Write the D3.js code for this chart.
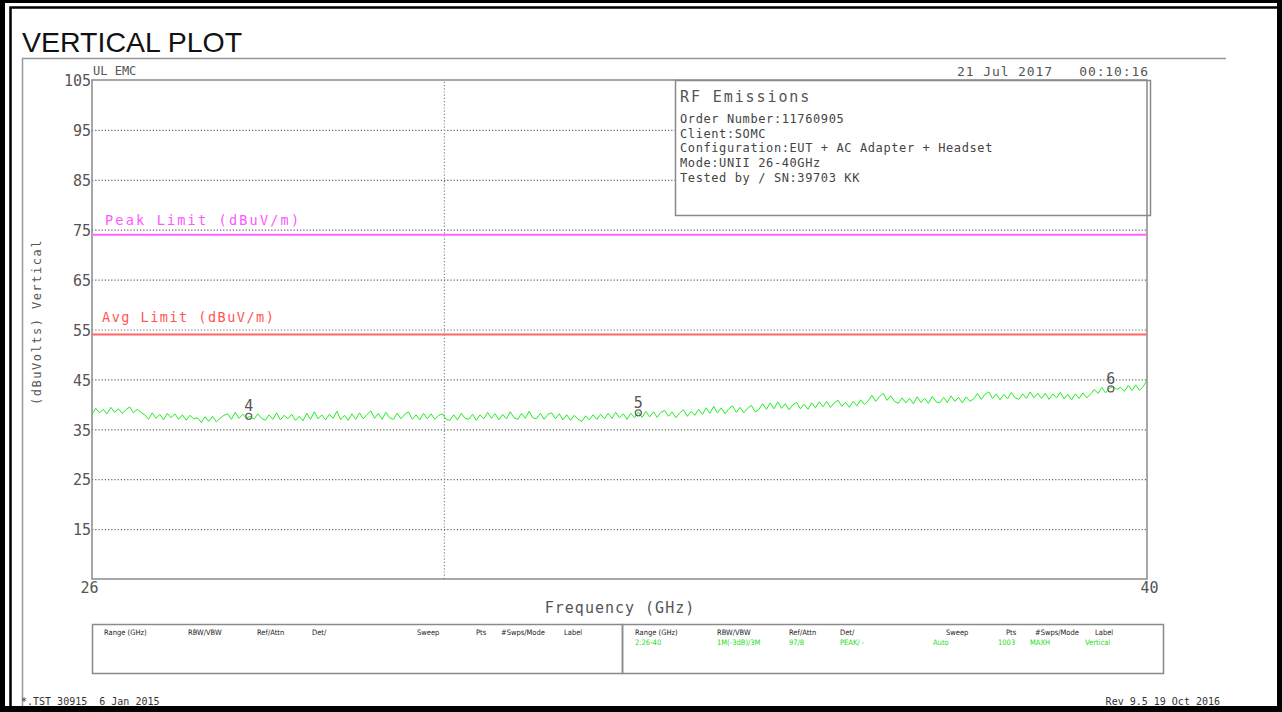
<!DOCTYPE html>
<html><head><meta charset="utf-8">
<script src="https://cdn.jsdelivr.net/npm/d3@7"></script>
<style>
html,body{margin:0;padding:0;background:#fff;}
svg{display:block;}
.mono{font-family:"DejaVu Sans Mono",monospace;}
text{white-space:pre;}
</style></head>
<body>
<svg id="c" width="1282" height="712"></svg>
<script>
// ---------- data ----------
const title = "VERTICAL PLOT";
const freqDomain = [26, 40];              // GHz
const levelDomain = [5, 105];             // dBuV
const yTickValues = [105, 95, 85, 75, 65, 55, 45, 35, 25, 15];
const xTickValues = [26, 40];
const vGridFreqs = [30.67];
const peakLimit = 74;
const avgLimit = 54;
const traceValues = [
 38.0,39.2,38.3,39.0,38.1,39.4,38.4,39.1,38.2,38.9,39.5,38.3,39.0,38.4,
 37.9,37.0,38.3,37.2,38.0,36.9,38.2,37.3,38.1,37.0,37.9,36.8,37.8,37.1,
 37.3,36.4,37.5,36.6,37.6,36.5,37.2,37.8,
 38.1,37.0,38.4,37.2,38.0,37.3,37.6,
 37.0,38.1,37.2,36.8,37.9,37.0,38.3,36.9,37.8,37.1,
 38.0,36.8,37.6,36.7,38.2,37.0,38.5,37.1,37.9,36.9,
 38.0,37.2,38.6,36.9,37.8,36.8,38.1,37.0,38.3,37.1,
 38.0,38.7,37.2,38.2,37.0,38.4,37.3,37.0,38.2,37.1,
 38.0,38.5,37.0,37.9,36.9,38.2,37.1,38.1,37.0,37.8,
 38.1,37.0,36.8,37.9,36.9,38.2,37.2,37.0,38.0,36.8,
 37.9,37.1,38.4,37.2,38.1,36.9,38.0,37.1,38.5,37.3,
 37.0,38.2,37.2,38.6,37.3,37.1,38.2,37.0,38.0,38.3,
 37.1,38.1,36.9,37.9,36.8,37.8,37.0,36.6,37.7,36.9,
 37.9,37.0,38.0,37.1,38.2,37.2,38.4,37.3,38.1,37.0,
 38.2,37.3,38.5,37.4,
 38.6,37.5,38.5,37.4,38.4,38.8,37.6,38.5,37.3,38.3,38.9,37.6,38.6,37.8,39.0,38.0,
 39.3,38.2,39.6,38.3,39.3,38.1,39.1,39.7,38.4,39.4,38.3,39.2,39.8,38.5,
 39.0,40.1,39.0,40.3,39.1,40.5,39.2,40.1,38.9,39.9,40.4,39.1,40.0,39.0,40.3,
 39.3,40.5,39.5,40.6,39.4,40.3,40.8,39.6,40.4,39.4,40.6,39.7,40.9,40.0,
 40.7,41.8,40.6,41.6,42.2,40.8,41.7,40.6,
 40.2,41.3,40.3,41.2,40.1,41.5,40.4,41.2,40.2,41.6,40.5,40.3,41.4,40.4,41.7,40.6,41.4,40.3,41.5,40.6,
 41.1,42.2,41.0,42.0,42.5,41.2,42.1,40.9,42.0,41.1,42.4,41.3,41.0,42.1,41.2,42.5,41.3,42.2,
 41.2,42.2,41.0,42.1,41.3,42.4,41.1,42.0,40.9,42.1,41.2,42.3,41.3,
 42.0,43.0,42.2,43.4,42.3,43.2,43.6,43.0,
 43.4,42.6,43.8,42.8,43.9,42.8,43.6,44.8
];
const markerIds = ["4", "5", "6"];
const markerFreqs = [28.08, 33.25, 39.52];
const markerLevels = [37.6, 38.3, 43.1];
const infoTitle = "RF Emissions";
const infoLines = ["Order Number:11760905","Client:SOMC","Configuration:EUT + AC Adapter + Headset","Mode:UNII 26-40GHz","Tested by / SN:39703 KK"];
const tableHeaders = ["Range (GHz)","RBW/VBW","Ref/Attn","Det/","Sweep","Pts","#Swps/Mode","Label"];
const tableValues = ["2:26-40","1M(-3dB)/3M","97/8","PEAK/ -","Auto","1003","MAXH","Vertical"];

// ---------- layout ----------
const svg = d3.select("#c");
const L = 92, R = 1147, T = 80, B = 579;
const x = d3.scaleLinear().domain(freqDomain).range([L, R]);
const y = d3.scaleLinear().domain(levelDomain).range([B, T]);
const gray = "#555", frame = "#8a8a8a";

// outer frame
svg.append("rect").attr("x",0).attr("y",0).attr("width",1282).attr("height",712).attr("fill","#000");
svg.append("rect").attr("x",5).attr("y",3).attr("width",1272).attr("height",703).attr("fill","#fff");
svg.append("path").attr("d","M10.5,710 V7.5 H1278").attr("fill","none").attr("stroke","#000").attr("stroke-width",2.5);

svg.append("text").attr("x",22).attr("y",52).attr("font-family","Liberation Sans, Arial, sans-serif")
  .attr("font-size",28.5).attr("fill","#111").text(title);

// gray page box
svg.append("path").attr("d","M1226,58.5 H22.5 V706").attr("fill","none").attr("stroke","#999").attr("stroke-width",1.5);

// grid
svg.append("g").attr("transform",`translate(${L},0)`)
  .call(d3.axisLeft(y).tickValues(yTickValues.filter(v=>v<105)).tickSize(-(R-L)).tickFormat(""))
  .call(g=>{g.select(".domain").remove(); g.selectAll("line").attr("stroke","#666").attr("stroke-width",1.2).attr("stroke-dasharray","1.2,2");});
svg.append("g").attr("transform",`translate(0,${B})`)
  .call(d3.axisBottom(x).tickValues(vGridFreqs).tickSize(-(B-T)).tickFormat(""))
  .call(g=>{g.select(".domain").remove(); g.selectAll("line").attr("stroke","#888").attr("stroke-width",1.2).attr("stroke-dasharray","1.2,2");});

// info box
const bx = 675, by = T, bw = 475, bh = 135;
svg.append("rect").attr("x",bx+0.5).attr("y",by+0.5).attr("width",bw).attr("height",bh).attr("fill","#fff").attr("stroke",frame).attr("stroke-width",1.5);
svg.append("text").attr("class","mono").attr("x",680).attr("y",102).attr("font-size",15).attr("letter-spacing",1.9).attr("fill",gray).text(infoTitle);
svg.selectAll("text.info").data(infoLines).join("text").attr("class","mono info")
  .attr("x",680).attr("y",(d,i)=>123+i*14.7).attr("font-size",12).attr("letter-spacing",0.6).attr("fill","#444").text(d=>d);

// plot frame
svg.append("rect").attr("x",L).attr("y",T).attr("width",R-L).attr("height",B-T).attr("fill","none").attr("stroke",frame).attr("stroke-width",1.5);

// y axis labels
svg.append("g").attr("transform",`translate(${L},0)`)
  .call(d3.axisLeft(y).tickValues(yTickValues).tickSize(0).tickPadding(1).tickFormat(d3.format("d")))
  .call(g=>{g.select(".domain").remove(); g.selectAll("text").attr("class","mono").attr("font-size",15).attr("fill",gray).attr("dy","0.38em");});
// x axis labels
svg.append("g").attr("transform",`translate(0,${B})`)
  .call(d3.axisBottom(x).tickValues(xTickValues).tickSize(0).tickPadding(3).tickFormat(d3.format("d")))
  .call(g=>{g.select(".domain").remove(); g.selectAll("text").attr("class","mono").attr("font-size",15).attr("fill",gray);
    g.selectAll(".tick text").attr("dx",(d)=>d===26?-3:2);});

svg.append("text").attr("class","mono").attr("x",620).attr("y",613).attr("text-anchor","middle").attr("font-size",15).attr("letter-spacing",1).attr("fill",gray).text("Frequency (GHz)");
svg.append("text").attr("class","mono").attr("transform","translate(41,322) rotate(-90)").attr("text-anchor","middle").attr("font-size",12).attr("letter-spacing",1.5).attr("fill",gray).text("(dBuVolts) Vertical");
svg.append("text").attr("class","mono").attr("x",93).attr("y",75).attr("font-size",12).attr("fill",gray).text("UL EMC");
svg.append("text").attr("class","mono").attr("x",1149).attr("y",76).attr("text-anchor","end").attr("font-size",13).attr("letter-spacing",0.9).attr("fill",gray).text("21 Jul 2017   00:10:16");

// limits
svg.append("line").attr("x1",L).attr("x2",R).attr("y1",y(peakLimit)).attr("y2",y(peakLimit)).attr("stroke","#ff66ff").attr("stroke-width",2);
svg.append("line").attr("x1",L).attr("x2",R).attr("y1",y(avgLimit)).attr("y2",y(avgLimit)).attr("stroke","#ff6666").attr("stroke-width",2);
svg.append("text").attr("class","mono").attr("x",105).attr("y",y(peakLimit)-10).attr("font-size",13.5).attr("letter-spacing",2.2).attr("fill","#ff55ff").text("Peak Limit (dBuV/m)");
svg.append("text").attr("class","mono").attr("x",102).attr("y",y(avgLimit)-12).attr("font-size",13.5).attr("letter-spacing",1.5).attr("fill","#ff5555").text("Avg Limit (dBuV/m)");

// trace
const n = traceValues.length;
const fAt = i => freqDomain[0] + i*(freqDomain[1]-freqDomain[0])/(n-1);
svg.append("path").datum(traceValues)
  .attr("d", d3.line().x((d,i)=>x(fAt(i))).y(d=>y(d)))
  .attr("fill","none").attr("stroke","#22ee22").attr("stroke-width",1);

// markers
const mk = svg.append("g");
markerIds.forEach((id,i)=>{
  mk.append("circle").attr("cx",x(markerFreqs[i])).attr("cy",y(markerLevels[i])).attr("r",3).attr("fill","none").attr("stroke","#666").attr("stroke-width",1.3);
  mk.append("text").attr("class","mono").attr("x",x(markerFreqs[i])).attr("y",y(markerLevels[i])-5).attr("text-anchor","middle").attr("font-size",15).attr("fill",gray).text(id);
});

// settings table
svg.append("rect").attr("x",92.5).attr("y",624.5).attr("width",530).attr("height",49).attr("fill","none").attr("stroke",frame).attr("stroke-width",1.5);
svg.append("rect").attr("x",622.5).attr("y",624.5).attr("width",541).attr("height",49).attr("fill","none").attr("stroke",frame).attr("stroke-width",1.5);
const hdrLeftX = [104,188,257,312,417,476,501,564];
const hdrRightX = [635,717,789,840,946,1006,1035,1095];
const valX = [635,717,789,840,933,998,1030,1085];
const tf = "DejaVu Sans Condensed, DejaVu Sans, sans-serif";
svg.selectAll("text.hl").data(tableHeaders).join("text").attr("class","hl").attr("x",(d,i)=>hdrLeftX[i]).attr("y",635).attr("font-family",tf).attr("font-size",7.5).attr("fill","#222").text(d=>d);
svg.selectAll("text.hr").data(tableHeaders).join("text").attr("class","hr").attr("x",(d,i)=>hdrRightX[i]).attr("y",635).attr("font-family",tf).attr("font-size",7.5).attr("fill","#222").text(d=>d);
svg.selectAll("text.tv").data(tableValues).join("text").attr("class","tv").attr("x",(d,i)=>valX[i]).attr("y",645).attr("font-family",tf).attr("font-size",7.5).attr("fill","#22dd22").text(d=>d);

// footer
svg.append("text").attr("class","mono").attr("x",21).attr("y",705).attr("font-size",10).attr("fill","#333").text("*.TST 30915  6 Jan 2015");
svg.append("text").attr("class","mono").attr("x",1220).attr("y",705).attr("text-anchor","end").attr("font-size",10).attr("fill","#333").text("Rev 9.5 19 Oct 2016");
</script>
</body></html>
